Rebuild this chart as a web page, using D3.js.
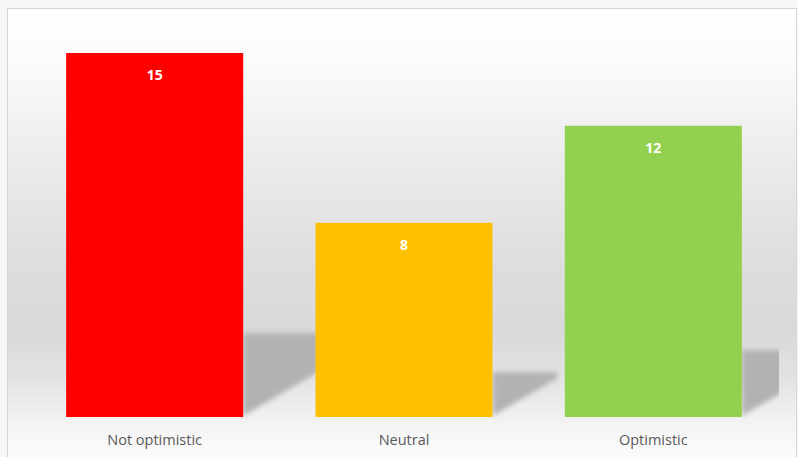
<!DOCTYPE html>
<html>
<head>
<meta charset="utf-8">
<script src="https://cdn.jsdelivr.net/npm/d3@7"></script>
<style>
  html, body { margin: 0; padding: 0; background: #f8f8f8; }
  svg { display: block; }
</style>
</head>
<body>
<svg id="chart" width="798" height="457"></svg>
<script>
const categories = ["Not optimistic", "Neutral", "Optimistic"];
const values = [15, 8, 12];
const colors = ["#ff0000", "#ffc000", "#92d050"];

const W = 798, H = 457;
const svg = d3.select("#chart");
const defs = svg.append("defs");

const bg = defs.append("linearGradient").attr("id", "bg")
  .attr("x1", 0).attr("y1", 0).attr("x2", 0).attr("y2", 1);
[[0, "#ffffff"], [0.12, "#fbfbfb"], [0.32, "#ececec"], [0.55, "#dedede"],
 [0.7, "#d9d9d9"], [0.8, "#e2e2e2"], [0.9, "#f3f3f3"], [0.96, "#fafafa"], [1, "#fafafa"]]
  .forEach(([o, c]) => bg.append("stop").attr("offset", o).attr("stop-color", c));

const blur = defs.append("filter").attr("id", "blur")
  .attr("x", "-20%").attr("y", "-20%").attr("width", "140%").attr("height", "140%");
blur.append("feGaussianBlur").attr("stdDeviation", 2.8);

const plotL = 30, plotR = 778, plotT = 53, plotB = 417;
defs.append("clipPath").attr("id", "plotclip").append("rect")
  .attr("x", plotL).attr("y", 0).attr("width", plotR - plotL + 1).attr("height", plotB + 2);

// chart frame
svg.append("rect").attr("x", 7.5).attr("y", 8.5).attr("width", 789).attr("height", 460)
  .attr("fill", "url(#bg)").attr("stroke", "#d4d4d4").attr("stroke-width", 1);

const x = d3.scaleBand().domain(categories).range([plotL, plotR])
  .paddingInner(0.29).paddingOuter(0.145);
const y = d3.scaleLinear().domain([0, 15]).range([plotB, plotT]);

const data = categories.map((c, i) => ({ c, v: values[i], col: colors[i] }));

// shadows
const slope = 0.6, shadowRatio = 0.23;
svg.append("g").attr("clip-path", "url(#plotclip)")
  .selectAll("path").data(data).join("path")
  .attr("fill", "#b2b2b2")
  .attr("filter", "url(#blur)")
  .attr("d", d => {
    const x0 = x(d.c) + x.bandwidth();
    const h = y(0) - y(d.v);
    const sw = 52 + 0.065 * h;
    const top = y(0) - h * shadowRatio;
    const x1 = x0 + sw;
    const bR = Math.max(top + 2, y(0) - sw * slope);
    return `M${x0},${y(0) - 1} L${x0},${top} L${x1},${top} L${x1},${bR} Z`;
  });

// bars
svg.append("g").selectAll("rect").data(data).join("rect")
  .attr("x", d => x(d.c))
  .attr("y", d => y(d.v))
  .attr("width", x.bandwidth())
  .attr("height", d => y(0) - y(d.v))
  .attr("fill", d => d.col);

// value labels
svg.append("g").selectAll("text").data(data).join("text")
  .attr("x", d => x(d.c) + x.bandwidth() / 2)
  .attr("y", d => y(d.v) + 27)
  .attr("text-anchor", "middle")
  .attr("fill", "#ffffff")
  .attr("font-family", "Open Sans, sans-serif")
  .attr("font-weight", "bold")
  .attr("font-size", "14px")
  .text(d => d.v);

// category axis
const axis = d3.axisBottom(x).tickSize(0).tickPadding(18);
const ax = svg.append("g").attr("transform", `translate(0,${plotB})`).call(axis);
ax.select(".domain").remove();
ax.selectAll("text")
  .attr("fill", "#595959")
  .attr("font-family", "Open Sans, sans-serif")
  .attr("font-size", "14.5px");
</script>
</body>
</html>
